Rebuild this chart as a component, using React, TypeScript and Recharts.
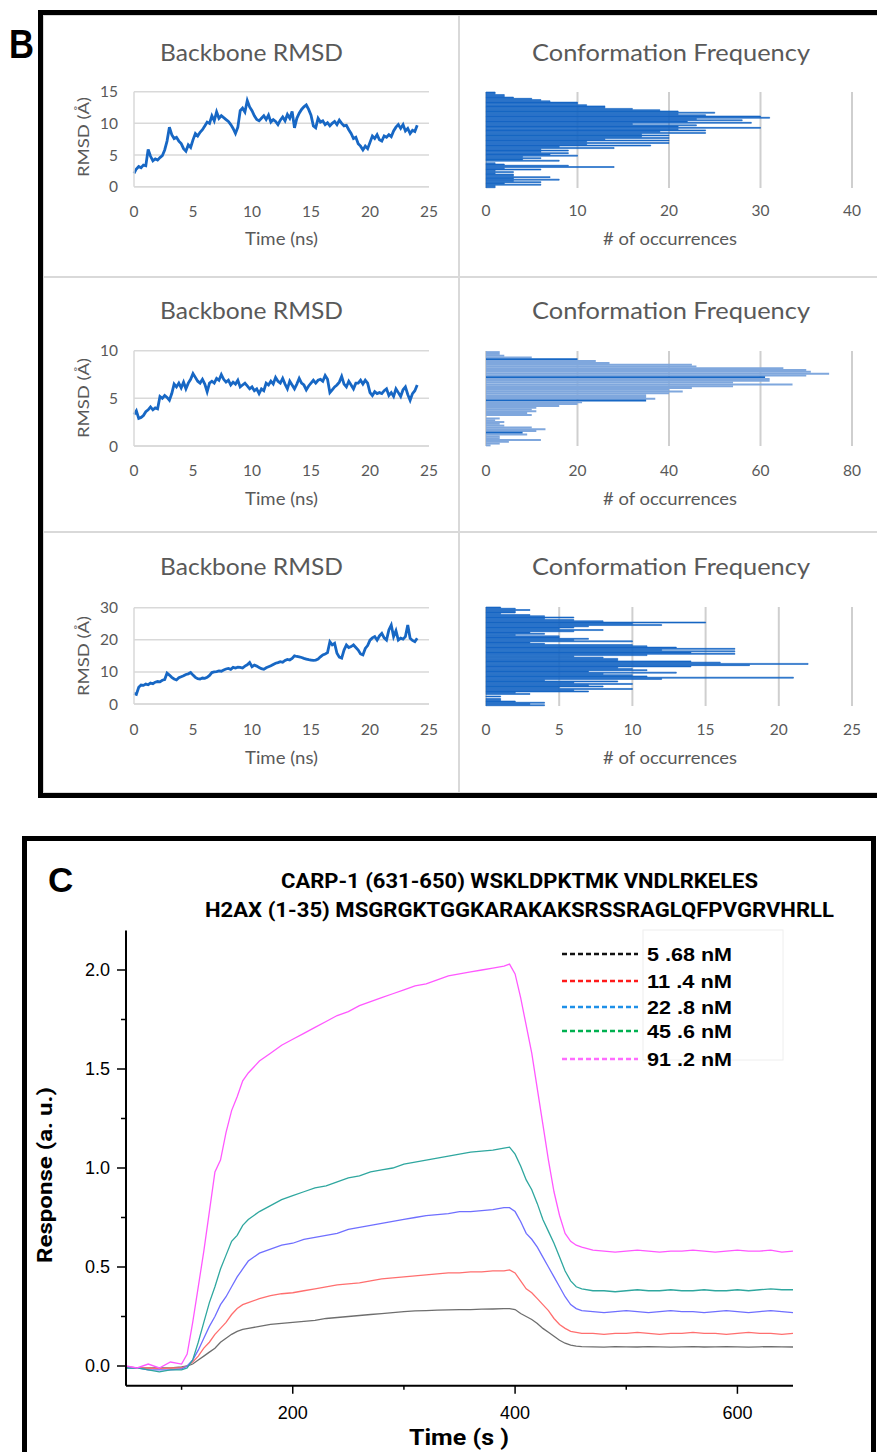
import React from 'react';
import { LineChart, Line, XAxis, YAxis, CartesianGrid, BarChart, Bar, Cell } from 'recharts';

// ---- panel B: backbone RMSD traces, one frame every 0.2 ns ----
const rmsdStep = 0.2;
const timeTicksNs = [0, 5, 10, 15, 20, 25];

const rmsdTop = [
  2.1, 2.8, 3.2, 3.0, 3.4, 3.3, 5.9, 4.8, 4.1, 4.4, 4.2, 4.6, 4.9, 5.8, 7.2, 9.4, 8.2, 7.6, 7.8, 7.2,
  6.8, 6.0, 5.6, 6.6, 6.2, 7.4, 8.4, 8.0, 8.6, 9.0, 9.6, 10.2, 10.0, 11.2, 10.4, 11.8, 10.8, 11.2, 10.9, 10.6,
  10.3, 9.8, 9.2, 8.4, 9.4, 12.0, 12.4, 11.8, 13.6, 12.6, 12.0, 11.2, 10.6, 10.4, 10.8, 11.2, 10.6, 11.3, 10.2, 10.6,
  10.3, 9.8, 10.5, 11.0, 10.4, 11.4, 10.8, 11.9, 9.3, 10.8, 11.6, 12.2, 12.6, 12.9, 12.2, 11.3, 9.6, 9.3, 10.8, 10.2,
  10.4, 9.8, 10.1, 9.6, 10.0, 10.3, 9.8, 10.5, 10.0, 9.6, 9.7, 9.0, 8.4, 7.6, 7.8, 6.8, 6.4, 5.8, 6.4, 6.0,
  7.0, 8.0, 7.6, 8.2, 7.4, 7.2, 8.0, 7.8, 8.2, 7.9, 8.8, 9.4, 9.8, 9.2, 9.8, 8.8, 9.2, 8.4, 8.9, 8.7,
  9.7,
];

const rmsdMid = [
  3.3, 3.7, 2.9, 3.0, 3.2, 3.6, 3.8, 4.1, 3.8, 4.0, 3.9, 5.2, 5.0, 5.3, 5.1, 4.8, 5.5, 6.5, 6.2, 6.6,
  6.1, 6.7, 6.0, 6.6, 7.0, 7.6, 7.2, 6.8, 6.6, 7.0, 6.5, 5.7, 6.6, 6.8, 6.6, 7.1, 6.9, 7.5, 7.0, 6.7,
  6.9, 6.4, 6.7, 6.5, 6.9, 6.2, 6.4, 6.6, 6.3, 6.0, 6.2, 5.8, 6.0, 5.5, 6.0, 5.8, 6.6, 6.4, 6.8, 6.5,
  7.2, 6.8, 6.6, 7.1, 6.5, 6.0, 6.8, 6.4, 6.0, 6.5, 7.1, 6.6, 6.4, 5.9, 6.3, 6.6, 6.9, 6.6, 6.9, 7.0,
  6.8, 7.4, 7.0, 5.6, 5.9, 6.2, 6.4, 6.7, 7.3, 6.5, 6.2, 6.8, 6.4, 6.0, 6.6, 6.6, 6.9, 6.5, 6.9, 6.6,
  5.6, 5.3, 5.7, 5.5, 5.6, 5.5, 5.8, 6.0, 5.3, 5.6, 5.2, 6.0, 5.6, 5.2, 5.9, 6.2, 5.4, 4.8, 5.5, 5.8,
  6.4,
];

const rmsdBot = [
  3.3, 3.0, 5.2, 5.9, 5.8, 6.2, 6.0, 6.5, 6.3, 6.8, 7.0, 6.9, 7.4, 7.6, 9.6, 9.0, 8.3, 7.8, 7.5, 8.2,
  8.5, 8.8, 9.2, 9.4, 9.8, 9.0, 8.3, 7.9, 7.8, 8.1, 8.0, 8.3, 8.9, 9.8, 10.0, 10.1, 10.3, 10.2, 10.6, 10.9,
  11.1, 10.8, 11.4, 11.2, 11.5, 11.4, 11.2, 11.8, 12.2, 12.9, 11.6, 12.1, 11.8, 11.4, 11.0, 10.8, 11.3, 11.6, 11.9, 12.3,
  12.7, 12.9, 13.2, 13.0, 13.6, 13.9, 13.7, 14.2, 15.0, 14.8, 14.7, 14.5, 14.2, 14.0, 13.8, 13.7, 13.6, 13.7, 14.0, 14.7,
  15.3, 15.6, 16.0, 19.4, 18.4, 18.9, 15.8, 14.6, 14.3, 16.8, 18.4, 17.6, 17.9, 18.4, 17.6, 16.8, 15.6, 15.3, 17.3, 18.2,
  19.9, 20.6, 21.0, 19.9, 21.2, 22.0, 20.6, 19.9, 23.1, 24.6, 21.0, 22.8, 19.9, 20.5, 20.2, 21.0, 24.6, 20.5, 19.8, 19.4,
  20.5,
];

// ---- panel B: conformation frequency histograms (bins listed top to bottom) ----
const freqTop = [
  1, 1, 2, 2, 3, 5, 6, 7, 10, 10, 11, 13, 13, 16, 19, 21, 25, 21, 24, 30, 31, 23, 28, 22, 29, 16, 23, 21,
  30, 21, 24, 19, 24, 17, 20, 17, 20, 13, 20, 11, 20, 11, 18, 8, 14, 6, 9, 6, 9, 7, 10, 4, 6, 4, 8, 0,
  1, 2, 9, 14, 2, 6, 1, 3, 1, 3, 3, 7, 3, 8, 3, 6, 2, 6, 1, 1,
];
const freqMid = [
  3, 3, 4, 10, 20, 24, 27, 45, 46, 65, 70, 71, 75, 70, 61, 62, 62, 54, 67, 54, 45, 40, 43, 40, 35, 35, 37,
  35, 21, 20, 16, 11, 10, 11, 9, 10, 0, 3, 2, 4, 3, 4, 10, 13, 11, 8, 9, 3, 3, 12, 5, 3, 1,
];
const freqMidDark = [4, 14, 27, 45];
const freqBot = [
  1, 2, 3, 2, 2, 1, 3, 4, 6, 4, 6, 8, 15, 10, 12, 7, 6, 5, 8, 6, 3, 4, 2, 5, 5, 7, 6, 10, 3, 4, 10, 11,
  13, 17, 12, 17, 14, 17, 11, 6, 8, 9, 9, 14, 16, 22, 18, 14, 9, 10, 11, 7, 13, 8, 10, 11, 21, 12, 4, 9,
  6, 10, 7, 8, 5, 10, 6, 7, 2, 3, 0, 1, 0, 1, 1, 2, 4, 3, 4,
];

// ---- panel C: SPR sensorgrams ----
const sprTime = [
  50, 60, 70, 80, 90, 100,
  105, 110, 115, 120, 125, 130, 135, 140, 145, 150, 155,
  160, 170, 180, 190, 200, 210, 220, 230, 240, 250, 260, 270, 280, 290, 300, 310, 320, 330, 340, 350, 360, 370, 380, 390,
  395, 400, 405, 410, 415, 420, 425, 430, 435, 440, 445, 450, 455, 460,
  470, 480, 490, 500, 510, 520, 530, 540, 550, 560, 570, 580, 590, 600, 610, 620, 630, 640, 650,
];
const spr568 = [
  -0.005, -0.01, -0.01, -0.01, -0.01, -0.005,
  0.0, 0.01, 0.03, 0.05, 0.07, 0.09, 0.12, 0.14, 0.16, 0.175, 0.185,
  0.19, 0.2, 0.21, 0.215, 0.22, 0.225, 0.23, 0.24, 0.245, 0.25, 0.255, 0.26, 0.265, 0.27, 0.275, 0.278, 0.28, 0.282, 0.283, 0.285, 0.285, 0.287, 0.288, 0.29,
  0.29, 0.285, 0.265, 0.25, 0.235, 0.215, 0.19, 0.17, 0.15, 0.13, 0.115, 0.105, 0.1, 0.098,
  0.097, 0.095, 0.098, 0.097, 0.096, 0.098, 0.097, 0.095, 0.097, 0.098, 0.096, 0.097, 0.098, 0.097, 0.095, 0.097, 0.098, 0.097, 0.096,
];
const spr114 = [
  -0.005, -0.01, -0.01, -0.015, -0.01, -0.01,
  0.0, 0.02, 0.05, 0.09, 0.12, 0.16, 0.19, 0.22, 0.26, 0.29, 0.31,
  0.32, 0.34, 0.355, 0.365, 0.37, 0.38, 0.39, 0.4, 0.41, 0.415, 0.42, 0.43, 0.44, 0.445, 0.45, 0.455, 0.46, 0.465, 0.47, 0.47, 0.475, 0.475, 0.48, 0.48,
  0.485, 0.47, 0.43, 0.39, 0.37, 0.34, 0.31, 0.28, 0.24, 0.21, 0.19, 0.175, 0.17, 0.165,
  0.165, 0.16, 0.165, 0.165, 0.17, 0.165, 0.16, 0.165, 0.165, 0.17, 0.165, 0.165, 0.16, 0.165, 0.17, 0.165, 0.165, 0.16, 0.165,
];
const spr228 = [
  -0.01, -0.01, -0.02, -0.02, -0.02, -0.015,
  0.0, 0.03, 0.08, 0.14, 0.2, 0.25, 0.31, 0.35, 0.4, 0.45, 0.49,
  0.53, 0.57, 0.59, 0.61, 0.62, 0.64, 0.65, 0.66, 0.67, 0.69, 0.7, 0.71, 0.72, 0.73, 0.74, 0.75, 0.76, 0.765, 0.77, 0.78, 0.78, 0.785, 0.79, 0.8,
  0.8, 0.78, 0.73, 0.67, 0.64, 0.6, 0.55, 0.5, 0.45, 0.4, 0.35, 0.31, 0.29, 0.28,
  0.275, 0.27, 0.275, 0.28, 0.275, 0.27, 0.275, 0.28, 0.275, 0.275, 0.27, 0.275, 0.28, 0.275, 0.27, 0.275, 0.28, 0.275, 0.27,
];
const spr456 = [
  -0.01, -0.01, -0.02, -0.03, -0.02, -0.02,
  -0.01, 0.03, 0.12, 0.22, 0.32, 0.4, 0.49, 0.56, 0.63, 0.66, 0.71,
  0.74, 0.78, 0.81, 0.84, 0.86, 0.88, 0.9, 0.91, 0.93, 0.95, 0.96, 0.98, 0.99, 1.0, 1.02, 1.03, 1.04, 1.05, 1.06, 1.07, 1.08, 1.085, 1.09, 1.1,
  1.105, 1.07, 1.01, 0.94, 0.89, 0.82, 0.74, 0.68, 0.62, 0.55, 0.48, 0.43, 0.4, 0.39,
  0.38, 0.38, 0.375, 0.38, 0.385, 0.38, 0.38, 0.385, 0.38, 0.38, 0.385, 0.38, 0.38, 0.385, 0.38, 0.385, 0.39, 0.385, 0.385,
];
const spr912 = [
  0.0, -0.01, 0.01, -0.01, 0.02, 0.01,
  0.06, 0.22, 0.4, 0.58, 0.78, 0.98, 1.04, 1.18, 1.29, 1.36, 1.44,
  1.48, 1.54, 1.58, 1.62, 1.65, 1.68, 1.71, 1.74, 1.77, 1.79, 1.82, 1.84, 1.86, 1.88, 1.9, 1.92, 1.93, 1.95, 1.97, 1.98, 1.99, 2.0, 2.01, 2.02,
  2.03, 1.98, 1.86, 1.72, 1.58, 1.4, 1.22, 1.04, 0.88, 0.76, 0.67, 0.63, 0.61, 0.6,
  0.585, 0.58, 0.575, 0.58, 0.585, 0.58, 0.575, 0.58, 0.58, 0.585, 0.58, 0.575, 0.58, 0.585, 0.58, 0.58, 0.585, 0.575, 0.58,
];
const sprKeys = ['c568', 'c114', 'c228', 'c456', 'c912'];
const sprCurveColors = ['#6E6E6E', '#FF6F6F', '#6F6FFF', '#2FA79F', '#FF58FF'];
const sprLegendLabels = ['5 .68 nM', '11 .4 nM', '22 .8 nM', '45 .6 nM', '91 .2 nM'];
const sprLegendColors = ['#111111', '#FF1A1A', '#1E90E8', '#00B050', '#FF6BFF'];
const sprYTicks = [0, 0.25, 0.5, 0.75, 1, 1.25, 1.5, 1.75, 2];
const sprXTicks = [100, 200, 300, 400, 500, 600];

const excelFont = 'Lato, "Open Sans", sans-serif';
const greyText = '#595959';

const sprData = sprTime.map((t, i) => ({
  t,
  c568: spr568[i],
  c114: spr114[i],
  c228: spr228[i],
  c456: spr456[i],
  c912: spr912[i]
}));

const toSeries = (vals: number[]) =>
  vals.map((v, i) => ({ t: Math.round(i * rmsdStep * 10) / 10, v }));

// margins that put the plot area at a given page rectangle
const fit = (box, plot, yW, xH) => ({
  top: plot.y0 - box.y,
  bottom: box.y + box.h - plot.y1 - xH,
  left: plot.x0 - box.x - yW,
  right: box.x + box.w - plot.x1
});

const tickStyle = { fill: greyText, fontSize: 15.5, fontFamily: excelFont };

const RmsdChart = ({ values, box, plot, yMax, yTicks }) => (
	<div style={{ position: 'absolute', left: box.x, top: box.y }}>
		<LineChart width={box.w} height={box.h} data={toSeries(values)} margin={fit(box, plot, 40, 40)}>
			<CartesianGrid vertical={false} stroke="#D9D9D9" strokeWidth={1.5} />
			<XAxis
				dataKey="t"
				type="number"
				domain={[0, 25]}
				ticks={timeTicksNs}
				interval={0}
				height={40}
				axisLine={{ stroke: '#D9D9D9', strokeWidth: 1.5 }}
				tickLine={false}
				tickSize={0}
				tickMargin={plot.gap}
				tick={tickStyle}
			/>
			<YAxis
				type="number"
				domain={[0, yMax]}
				ticks={yTicks}
				interval={0}
				width={40}
				axisLine={{ stroke: '#D9D9D9', strokeWidth: 1.5 }}
				tickLine={false}
				tickSize={0}
				tickMargin={16}
				tick={tickStyle}
			/>
			<Line
				type="linear"
				dataKey="v"
				stroke="#1767C4"
				strokeWidth={2.8}
				dot={false}
				isAnimationActive={false}
			/>
		</LineChart>
	</div>
);

const FreqChart = ({ counts, box, plot, xMax, xTicks, fill, gap, dark = [], edge = 0 }) => (
	<div style={{ position: 'absolute', left: box.x, top: box.y }}>
		<BarChart
			width={box.w}
			height={box.h}
			layout="vertical"
			data={counts.map((n, i) => ({ bin: i, n }))}
			margin={fit(box, plot, 0, 40)}
			barCategoryGap={gap}
		>
			<CartesianGrid horizontal={false} stroke="#CFCFCF" strokeWidth={2} />
			<XAxis
				type="number"
				domain={[0, xMax]}
				ticks={xTicks}
				interval={0}
				height={40}
				axisLine={false}
				tickLine={false}
				tickSize={0}
				tickMargin={plot.gap}
				tick={tickStyle}
			/>
			<YAxis type="category" dataKey="bin" hide width={0} />
			<Bar dataKey="n" fill={fill} isAnimationActive={false}>
				{counts.map((_, i) => {
					const c = dark.includes(i) ? '#1767C4' : fill;
					return <Cell key={i} fill={c} stroke={edge ? c : 'none'} strokeWidth={edge} />;
				})}
			</Bar>
		</BarChart>
	</div>
);

const SprYTick = props => {
	const { x, y, payload } = props;
	const v = payload.value;
	const major = Math.round(v * 100) % 50 === 0;
	return (
		<g>
			<line x1={x - (major ? 9 : 5)} x2={x} y1={y} y2={y} stroke="#000" strokeWidth={1.5} />
			{major && (
				<text x={x - 16} y={y} dy="0.36em" textAnchor="end" fontSize={18} fontFamily='"Liberation Sans", Arial' fill="#000">
					{v.toFixed(1)}
				</text>
			)}
		</g>
	);
};

const SprXTick = props => {
	const { x, y, payload } = props;
	const v = payload.value;
	const major = v % 200 === 0;
	return (
		<g>
			<line x1={x} x2={x} y1={y} y2={y + (major ? 8 : 4)} stroke="#000" strokeWidth={1.5} />
			{major && (
				<text x={x} y={y + 33} textAnchor="middle" fontSize={18} fontFamily='"Liberation Sans", Arial' fill="#000">
					{v}
				</text>
			)}
		</g>
	);
};

const leftCol = { x: 43, w: 416 };
const rightCol = { x: 459, w: 418 };
const rows = [
	{ y: 15, h: 262 },
	{ y: 277, h: 255 },
	{ y: 532, h: 261 }
];
const cell = (col, row) => ({ x: col.x, w: col.w, y: row.y, h: row.h });

const rmsdPlots = [
	{ x0: 134, x1: 429, y0: 91.7, y1: 186.7, gap: 19 },
	{ x0: 134, x1: 429, y0: 350.7, y1: 446, gap: 18.7 },
	{ x0: 134, x1: 429, y0: 607.7, y1: 704, gap: 19.7 }
];
const freqPlots = [
	{ x0: 486, x1: 852, y0: 92, y1: 188, gap: 17 },
	{ x0: 486, x1: 852, y0: 351, y1: 446, gap: 18.7 },
	{ x0: 486, x1: 852, y0: 607, y1: 706, gap: 17.7 }
];
const titleBaselines = [61, 319, 575];
const axisTitleBaselines = [245, 505, 764];
const rmsdLabelCenters = [137, 398, 656];

const sprBox = { x: 0, y: 920, w: 877, h: 532 };
const sprPlot = { x0: 126, x1: 793, y0: 930.4, y1: 1385.8 };

export default function App() {
	return (
		<div style={{ position: 'absolute', left: 0, top: 0, width: 877, height: 1452, overflow: 'hidden', background: '#fff' }}>
			{/* panel frames */}
			<div style={{ position: 'absolute', left: 38, top: 10, width: 900, height: 788, border: '5px solid #000', boxSizing: 'border-box' }} />
			<div style={{ position: 'absolute', left: 22, top: 836, width: 854, height: 700, border: '5px solid #000', boxSizing: 'border-box' }} />
			{rows.map((r, i) => (
				<React.Fragment key={i}>
					<div style={{ position: 'absolute', left: leftCol.x, top: r.y, width: leftCol.w, height: r.h, border: '1px solid #D9D9D9', boxSizing: 'border-box' }} />
					<div style={{ position: 'absolute', left: rightCol.x, top: r.y, width: rightCol.w + 20, height: r.h, border: '1px solid #D9D9D9', boxSizing: 'border-box' }} />
				</React.Fragment>
			))}

			<RmsdChart values={rmsdTop} box={cell(leftCol, rows[0])} plot={rmsdPlots[0]} yMax={15} yTicks={[0, 5, 10, 15]} />
			<RmsdChart values={rmsdMid} box={cell(leftCol, rows[1])} plot={rmsdPlots[1]} yMax={10} yTicks={[0, 5, 10]} />
			<RmsdChart values={rmsdBot} box={cell(leftCol, rows[2])} plot={rmsdPlots[2]} yMax={30} yTicks={[0, 10, 20, 30]} />

			<FreqChart counts={freqTop} box={cell(rightCol, rows[0])} plot={freqPlots[0]} xMax={40} xTicks={[0, 10, 20, 30, 40]} fill="#1767C4" gap={0} edge={0.6} />
			<FreqChart counts={freqMid} box={cell(rightCol, rows[1])} plot={freqPlots[1]} xMax={80} xTicks={[0, 20, 40, 60, 80]} fill="#7FA7DD" gap="8%" dark={freqMidDark} />
			<FreqChart counts={freqBot} box={cell(rightCol, rows[2])} plot={freqPlots[2]} xMax={25} xTicks={[0, 5, 10, 15, 20, 25]} fill="#1767C4" gap={0} edge={0.6} />

			<div style={{ position: 'absolute', left: sprBox.x, top: sprBox.y }}>
				<LineChart width={sprBox.w} height={sprBox.h} data={sprData} margin={fit(sprBox, sprPlot, 126, 40)}>
					<XAxis
						dataKey="t"
						type="number"
						domain={[50, 650]}
						ticks={sprXTicks}
						interval={0}
						height={40}
						allowDataOverflow
						axisLine={{ stroke: '#000', strokeWidth: 2 }}
						tickLine={false}
						tickSize={0}
						tickMargin={0}
						tick={<SprXTick />}
					/>
					<YAxis
						type="number"
						domain={[-0.1, 2.2]}
						ticks={sprYTicks}
						interval={0}
						width={126}
						allowDataOverflow
						axisLine={{ stroke: '#000', strokeWidth: 2 }}
						tickLine={false}
						tickSize={0}
						tickMargin={0}
						tick={<SprYTick />}
					/>
					{sprKeys.map((k, i) => (
						<Line
							key={k}
							type="linear"
							dataKey={k}
							stroke={sprCurveColors[i]}
							strokeWidth={1.3}
							dot={false}
							isAnimationActive={false}
						/>
					))}
				</LineChart>
			</div>

			{/* texts and legend */}
			<svg width={877} height={1452} style={{ position: 'absolute', left: 0, top: 0, pointerEvents: 'none' }}>
				<text x={9} y={58} fontSize={40} fontWeight="bold" fontFamily='"Liberation Sans", Arial' textLength={25} lengthAdjust="spacingAndGlyphs">B</text>
				<text x={48} y={892} fontSize={35} fontWeight="bold" fontFamily='"Liberation Sans", Arial'>C</text>

				{titleBaselines.map((b, i) => (
					<React.Fragment key={i}>
						<text x={160} y={b} fontSize={24} fontFamily={excelFont} fill={greyText} textLength={183} lengthAdjust="spacingAndGlyphs">Backbone RMSD</text>
						<text x={532} y={b} fontSize={24} fontFamily={excelFont} fill={greyText} textLength={278} lengthAdjust="spacingAndGlyphs">Conformation Frequency</text>
						<text x={245} y={axisTitleBaselines[i]} fontSize={17} fontFamily={excelFont} fill={greyText} textLength={73} lengthAdjust="spacingAndGlyphs">Time (ns)</text>
						<text x={603} y={axisTitleBaselines[i]} fontSize={17} fontFamily={excelFont} fill={greyText} textLength={134} lengthAdjust="spacingAndGlyphs"># of occurrences</text>
						<text
							x={83}
							y={rmsdLabelCenters[i]}
							fontSize={16}
							fontFamily={excelFont}
							fill={greyText}
							textAnchor="middle"
							dy="0.35em"
							textLength={80}
							lengthAdjust="spacingAndGlyphs"
							transform={`rotate(-90 83 ${rmsdLabelCenters[i]})`}
						>
							RMSD (Å)
						</text>
					</React.Fragment>
				))}

				<text x={281} y={888} fontSize={21} fontWeight="bold" fontFamily="Roboto, sans-serif" textLength={477} lengthAdjust="spacingAndGlyphs">
					CARP-1 (631-650) WSKLDPKTMK VNDLRKELES
				</text>
				<text x={205} y={917} fontSize={21} fontWeight="bold" fontFamily="Roboto, sans-serif" textLength={629} lengthAdjust="spacingAndGlyphs">
					H2AX (1-35) MSGRGKTGGKARAKAKSRSSRAGLQFPVGRVHRLL
				</text>
				<text
					x={45}
					y={1175}
					fontSize={21}
					fontWeight="bold"
					fontFamily="Roboto, sans-serif"
					textAnchor="middle"
					dy="0.35em"
					textLength={176}
					lengthAdjust="spacingAndGlyphs"
					transform="rotate(-90 45 1175)"
				>
					Response (a. u.)
				</text>
				<text x={409} y={1445} fontSize={22} fontWeight="bold" fontFamily="Roboto, sans-serif" textLength={100} lengthAdjust="spacingAndGlyphs">
					Time (s )
				</text>

				<rect x={643} y={930} width={140} height={130} fill="none" stroke="#EEEEEE" strokeWidth={1} />
				{sprLegendLabels.map((lab, i) => {
					const cy = [954, 981, 1007, 1031, 1059][i];
					return (
						<g key={lab}>
							<line x1={562} x2={638} y1={cy} y2={cy} stroke={sprLegendColors[i]} strokeWidth={2.5} strokeDasharray="5 3" />
							<text x={647} y={cy + 6.5} fontSize={18} fontWeight="bold" fontFamily='"Liberation Sans", Arial' textLength={85} lengthAdjust="spacingAndGlyphs">
								{lab}
							</text>
						</g>
					);
				})}
			</svg>
		</div>
	);
}
